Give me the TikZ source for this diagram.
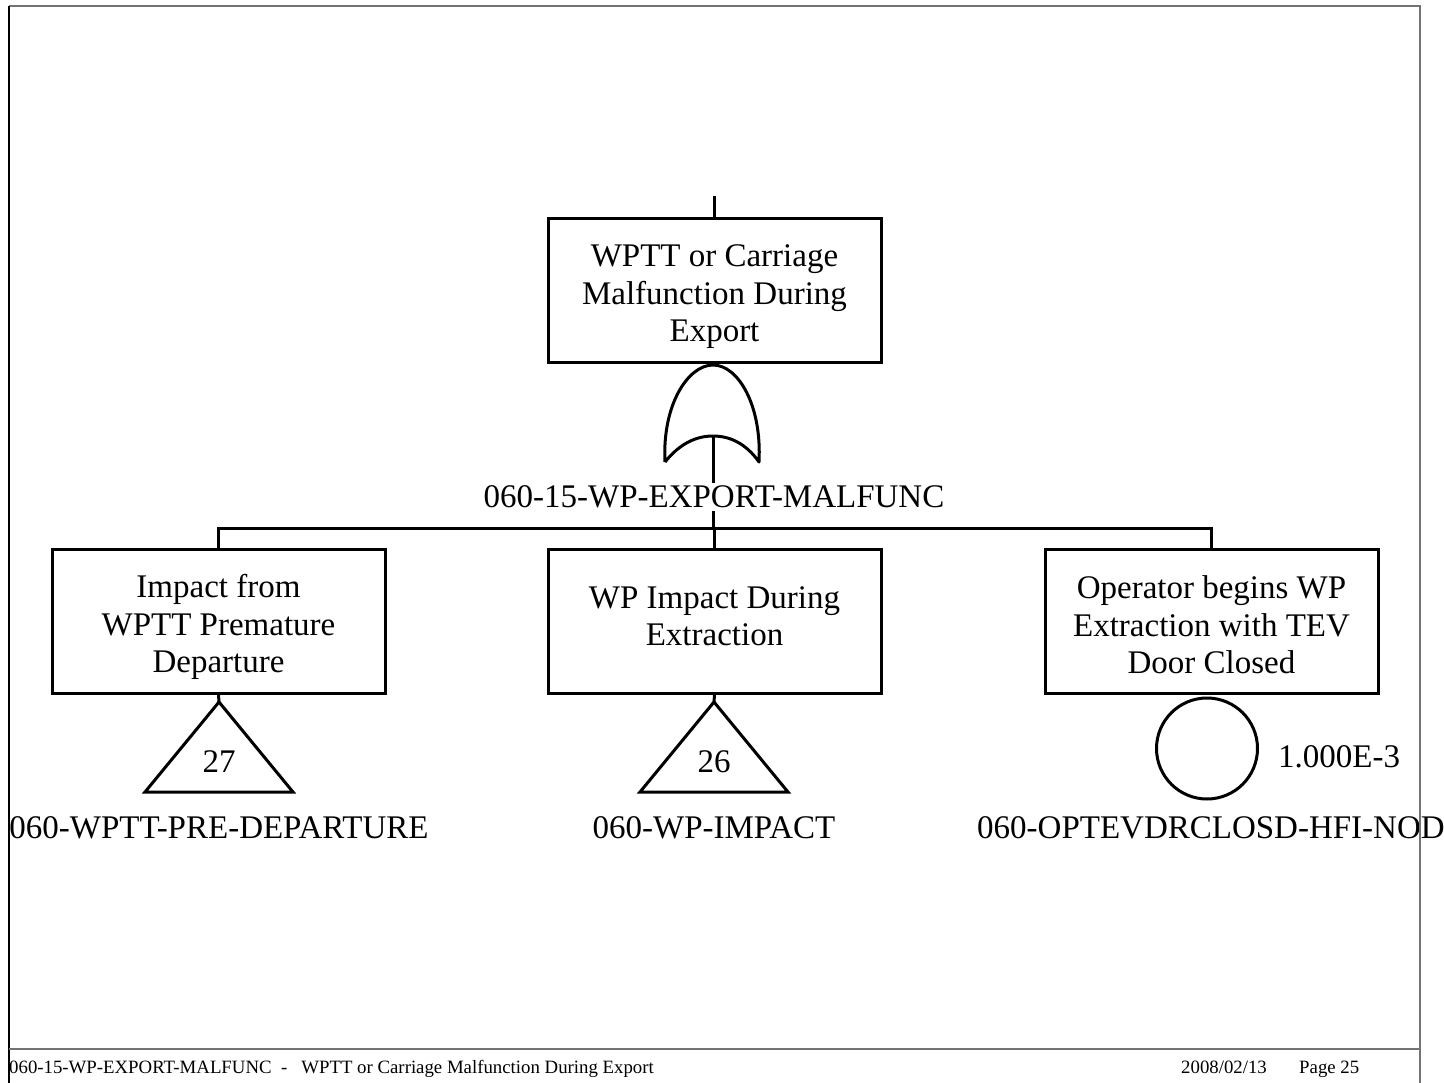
\documentclass[tikz,border=0pt]{standalone}
\usepackage{fontspec}
\setmainfont{Liberation Serif}
\begin{document}
\begin{tikzpicture}[x=1pt,y=-1pt,
  evbox/.style={draw, line width=3pt, minimum width=333pt, minimum height=144pt, inner sep=0pt},
  evtext/.style={align=center, inner sep=0pt, font=\fontsize{33}{37.5}\selectfont},
  big/.style={font=\fontsize{33}{37.5}\selectfont, inner sep=0pt},
  small/.style={font=\fontsize{18.8}{21}\selectfont, inner sep=0pt},
  wire/.style={line width=3pt},
  frameline/.style={line width=2pt, draw=black!55}]
\useasboundingbox (0,0) rectangle (1444,1083);
\begin{scope}
\clip (9,6) rectangle (1444,1083);
% events
\node[evbox] (top) at (714.5,291) {};
\node[evbox] (left) at (218.5,621) {};
\node[evbox] (mid) at (714.5,621) {};
\node[evbox] (right) at (1211.5,621) {};
\node[evtext] (toptext) at ([yshift=-6pt]top.center) {WPTT or Carriage\\Malfunction During\\Export};
\node[evtext] (lefttext) at ([yshift=-6pt]left.center) {Impact from\\WPTT Premature\\Departure};
\node[evtext] (midtext) at ([yshift=5pt]mid.center) {WP Impact During\\Extraction};
\node[evtext] (righttext) at ([yshift=-4pt]right.center) {Operator begins WP\\Extraction with TEV\\Door Closed};
% top stub
\coordinate (topin) at (714.5,196);
\draw[wire] (topin) -- (top.north);
% OR gate
\coordinate (gtop) at (713,365);
\coordinate (gbot) at (713,436);
\draw[wire, line join=round] (665,462) .. controls (662,405) and (688,365) .. (gtop)
   .. controls (738,365) and (762,405) .. (759,462)
   .. controls (745,442) and (728,436) .. (gbot)
   .. controls (698,436) and (681,442) .. (665,462);
\coordinate (barY) at (0,528);
\draw[wire] (gbot) -- (gbot |- barY);
\node[big, fill=white, inner ysep=3pt] (glabel) at (714,497) {060-15-WP-EXPORT-MALFUNC};
\draw[wire] (left.north) |- (right.north |- barY) -- (right.north);
\draw[wire] (mid.north) -- (mid.north |- barY);
% transfer triangles
\coordinate (t1) at (219,702);
\coordinate (t2) at (714,702);
\draw[wire] (left.south) -- (t1);
\draw[wire] (mid.south) -- (t2);
\draw[wire, line join=miter] (t1) -- ++(-74,90) -- ++(148,0) -- cycle;
\draw[wire, line join=miter] (t2) -- ++(-74,90) -- ++(148,0) -- cycle;
\node[big] (n27) at (219,762) {27};
\node[big] (n26) at (714,762) {26};
\node[big, anchor=base] (l1) at (219,838) {060-WPTT-PRE-DEPARTURE};
\node[big, anchor=base] (l2) at (714,838) {060-WP-IMPACT};
% basic event
\node[draw, circle, line width=3pt, minimum size=101pt, inner sep=0pt] (be) at (1207,748.5) {};
\node[big, anchor=west] (prob) at (1278,757) {1.000E-3};
\node[big, anchor=base west] (l3) at (977,838) {060-OPTEVDRCLOSD-HFI-NOD};
% footer
\node[small, anchor=base west] (foot) at (9,1073) {060-15-WP-EXPORT-MALFUNC\ \ -\ \ \ WPTT or Carriage Malfunction During Export};
\node[small, anchor=base west] (date) at (1181,1073) {2008/02/13};
\node[small, anchor=base west] (page) at (1299,1073) {Page 25};
\end{scope}
% frame
\coordinate (fTL) at (9,6);
\coordinate (fTR) at (1420,6);
\coordinate (fBL) at (9,1083);
\coordinate (fBR) at (1420,1083);
\draw[frameline] (fTL) -- (fTR) -- (fBR);
\draw[line width=2pt] (fTL) -- (fBL);
\coordinate (footL) at (9,1049);
\coordinate (footR) at (1420,1049);
\draw[frameline] (footL) -- (footR);
\end{tikzpicture}
\end{document}
